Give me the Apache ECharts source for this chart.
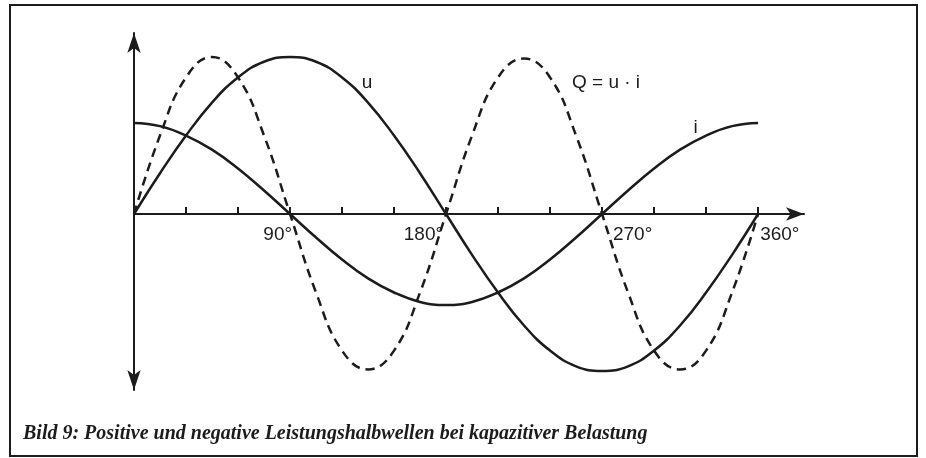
<!DOCTYPE html>
<html>
<head>
<meta charset="utf-8">
<script src="https://cdn.jsdelivr.net/npm/echarts@6/dist/echarts.min.js"></script>
<style>
  html, body { margin: 0; padding: 0; background: #fff; }
  #chart { width: 926px; height: 458px; }
</style>
</head>
<body>
<div id="chart"></div>
<script>
// Winkel in Grad, alle 15°
var winkel = [0, 15, 30, 45, 60, 75, 90, 105, 120, 135, 150, 165, 180,
	195, 210, 225, 240, 255, 270, 285, 300, 315, 330, 345, 360];
// Spannung u
var spannungU = [0, 0.26, 0.5, 0.71, 0.87, 0.97, 1, 0.97, 0.87, 0.71, 0.5, 0.26, 0,
	-0.26, -0.5, -0.71, -0.87, -0.97, -1, -0.97, -0.87, -0.71, -0.5, -0.26, 0];
// Strom i (eilt um 90° vor)
var stromI = [0.58, 0.56, 0.5, 0.41, 0.29, 0.15, 0, -0.15, -0.29, -0.41, -0.5, -0.56, -0.58,
	-0.56, -0.5, -0.41, -0.29, -0.15, 0, 0.15, 0.29, 0.41, 0.5, 0.56, 0.58];
// Leistung Q = u * i (gestrichelt)
var leistungQ = [0, 0.5, 0.87, 1, 0.87, 0.5, 0, -0.5, -0.87, -0.99, -0.87, -0.5, 0,
	0.5, 0.87, 0.99, 0.87, 0.5, 0, -0.5, -0.87, -0.99, -0.87, -0.5, 0];
// Teilstriche der Winkelachse
var teilstriche = [30, 60, 90, 120, 150, 180, 210, 240, 270, 300, 330, 360];
// Beschriftung der Winkelachse
var achsenText = ["90°", "180°", "270°", "360°"];

function paare(ys) {
	return winkel.map(function (x, k) { return [x, ys[k]]; });
}

var schwarz = "#1c1c1c";
var schrift = "'Liberation Sans', Arial, sans-serif";

// Beschriftung an der Achse: 90° und 180° links vom Strich, 270° und 360° rechts davon
var achsenMarken = [
	{ name: achsenText[0], coord: [91.2, -0.13], label: { position: "left" } },
	{ name: achsenText[1], coord: [178.3, -0.13], label: { position: "left" } },
	{ name: achsenText[2], coord: [276.3, -0.13], label: { position: "right" } },
	{ name: achsenText[3], coord: [361.2, -0.13], label: { position: "right" } }
];

var myChart = echarts.init(document.getElementById("chart"));

function kurve(name, werte, linie, marken) {
	return {
		name: name,
		type: "line",
		data: paare(werte),
		smooth: 0.45,
		showSymbol: false,
		lineStyle: linie,
		markPoint: {
			symbol: "circle",
			symbolSize: 0,
			label: {
				show: true,
				position: "inside",
				distance: 0,
				color: schwarz,
				fontFamily: schrift,
				fontSize: 19,
				formatter: "{b}"
			},
			data: marken
		}
	};
}

var option = {
	animation: false,
	backgroundColor: "#ffffff",
	grid: { left: 134, right: 122, top: 33, bottom: 68 },
	xAxis: {
		type: "value",
		min: 0,
		max: 386.5,
		axisLine: {
			onZero: true,
			symbol: ["none", "arrow"],
			symbolSize: [10, 18],
			lineStyle: { color: schwarz, width: 2 }
		},
		axisTick: {
			show: true,
			inside: true,
			length: 7,
			customValues: teilstriche,
			lineStyle: { color: schwarz, width: 2 }
		},
		axisLabel: { show: false },
		splitLine: { show: false }
	},
	yAxis: {
		type: "value",
		min: -1.121,
		max: 1.153,
		axisLine: {
			show: true,
			onZero: true,
			symbol: ["arrow", "arrow"],
			symbolSize: [10, 20],
			lineStyle: { color: schwarz, width: 2 }
		},
		axisTick: { show: false },
		axisLabel: { show: false },
		splitLine: { show: false }
	},
	series: [
		kurve("u", spannungU, { color: schwarz, width: 2.5 },
			[{ name: "u", coord: [134.4, 0.834] }].concat(achsenMarken)),
		kurve("i", stromI, { color: schwarz, width: 2.5 },
			[{ name: "i", coord: [324, 0.55] }]),
		kurve("Q", leistungQ, { color: schwarz, width: 2.5, type: [9, 6] },
			[{ name: "Q = u · i", coord: [272.3, 0.834] }])
	],
	graphic: [
		{
			type: "rect",
			shape: { x: 10, y: 5, width: 907, height: 451 },
			style: { fill: "none", stroke: schwarz, lineWidth: 2 },
			silent: true
		},
		{
			type: "text",
			left: 23,
			top: 424,
			style: {
				text: "Bild 9: Positive und negative Leistungshalbwellen bei kapazitiver Belastung",
				fontFamily: "'Liberation Serif', 'DejaVu Serif', serif",
				fontStyle: "italic",
				fontWeight: "bold",
				fontSize: 20,
				fill: schwarz
			}
		}
	]
};

myChart.setOption(option);
</script>
</body>
</html>
